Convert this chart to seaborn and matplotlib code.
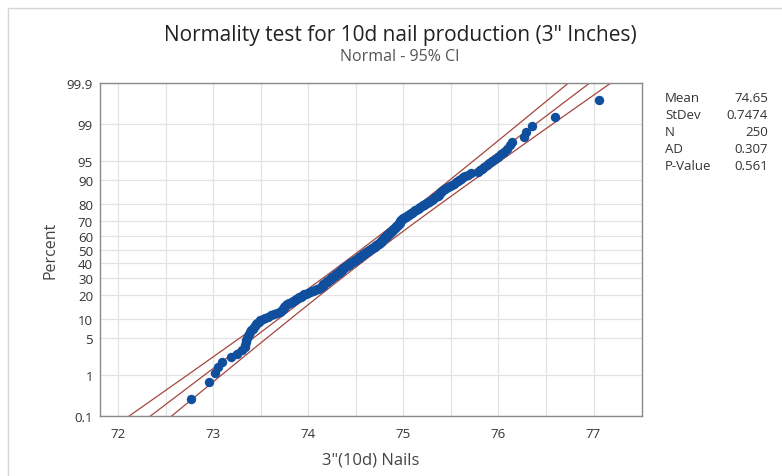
"""
plot.py - normal probability plot of 10d nail lengths (Minitab style)
"""

from statistics import NormalDist
import numpy as np
import pandas as pd
import matplotlib
matplotlib.use('Agg')
import matplotlib.pyplot as plt
from matplotlib.patches import Rectangle
import seaborn as sns

nails_low = [72.77, 72.96, 73.02, 73.05, 73.09, 73.19, 73.25, 73.30,
             73.33, 73.34, 73.35, 73.35, 73.36, 73.37, 73.38, 73.39,
             73.40, 73.42, 73.43, 73.44, 73.45, 73.46, 73.48, 73.49,
             73.52, 73.55, 73.58, 73.61, 73.64, 73.67, 73.70,
             73.71, 73.72, 73.73, 73.74, 73.75, 73.76, 73.77, 73.78, 73.80,
             73.81, 73.83, 73.84, 73.86, 73.87, 73.89, 73.90, 73.92, 73.93,
             73.95, 73.96, 73.98, 74.00,
             74.02, 74.04, 74.05, 74.07, 74.09, 74.10, 74.12]
nails_mid = [74.13, 74.14, 74.15, 74.15, 74.16, 74.17, 74.18, 74.19, 74.20,
             74.20, 74.21, 74.22, 74.23, 74.24, 74.24, 74.25, 74.26, 74.27,
             74.28, 74.28, 74.29, 74.30, 74.31, 74.32, 74.32, 74.33, 74.34,
             74.35, 74.36, 74.36, 74.37, 74.38, 74.39, 74.39, 74.40,
             74.41, 74.42, 74.43, 74.43, 74.44, 74.45, 74.46, 74.47, 74.48,
             74.48, 74.49, 74.50, 74.51, 74.52, 74.53, 74.53, 74.54, 74.55,
             74.56, 74.57, 74.58, 74.58, 74.59, 74.60, 74.61, 74.62, 74.63,
             74.63, 74.64, 74.65,
             74.66, 74.66, 74.67, 74.68, 74.69, 74.70, 74.70, 74.71, 74.72,
             74.73, 74.74, 74.74, 74.75,
             74.76, 74.76, 74.77, 74.78, 74.78, 74.79, 74.79, 74.80, 74.80,
             74.81, 74.82, 74.82, 74.83, 74.83, 74.84, 74.85, 74.85, 74.86,
             74.86, 74.87, 74.88, 74.88, 74.89, 74.89, 74.90, 74.91, 74.91,
             74.92, 74.92, 74.93, 74.94, 74.94, 74.95, 74.95, 74.96, 74.96,
             74.97, 74.97, 74.98, 74.98, 74.99]
nails_high = [75.00, 75.01, 75.02, 75.03, 75.04, 75.05, 75.06, 75.07, 75.08,
              75.09, 75.10, 75.11, 75.12, 75.13, 75.15, 75.16, 75.17, 75.18,
              75.20,
              75.21, 75.22, 75.23, 75.25, 75.26, 75.27, 75.28, 75.30, 75.31,
              75.32, 75.33, 75.35, 75.36, 75.37, 75.38, 75.39, 75.40, 75.41,
              75.42, 75.44, 75.45,
              75.47, 75.49, 75.51, 75.53, 75.55, 75.57, 75.59, 75.61, 75.63,
              75.65, 75.68, 75.71,
              75.79, 75.81, 75.83, 75.85, 75.88, 75.90, 75.93, 75.96, 76.00,
              76.03, 76.06, 76.09, 76.12, 76.14,
              76.27, 76.29, 76.35, 76.60, 77.06]

stat_names = ['Mean', 'StDev', 'N', 'AD', 'P-Value']
stat_values = ['74.65', '0.7474', '250', '0.307', '0.561']
fit_mean = 74.65
fit_sd = 0.7474

pct_ticks = [0.1, 1, 5, 10, 20, 30, 40, 50, 60, 70, 80, 90, 95, 99, 99.9]
pct_labels = ['0.1', '1', '5', '10', '20', '30', '40', '50', '60', '70', '80',
              '90', '95', '99', '99.9']
x_ticks = [72, 73, 74, 75, 76, 77]

DOT = '#0f4f9e'
RED = '#a5463e'
GRID = '#e3e3e3'
TXT = '#333333'

nd = NormalDist()
x = np.array(nails_low + nails_mid + nails_high)
n = len(x)
# Minitab median ranks -> normal scores
ranks = np.arange(1, n + 1)
z = np.array([nd.inv_cdf((i - 0.3) / (n + 0.4)) for i in ranks])
df = pd.DataFrame({'nails': x, 'z': z})

sns.set_theme(style='whitegrid')
plt.rcParams['font.family'] = ['Open Sans', 'DejaVu Sans']

fig = plt.figure(figsize=(7.82, 4.77), dpi=100)
ax = fig.add_axes([100 / 782, 60 / 477, 542 / 782, 333 / 477])

# fitted line and 95% CI for percentiles
zmax = nd.inv_cdf(0.999)
zz = np.linspace(-zmax - 0.3, zmax + 0.3, 200)
z975 = nd.inv_cdf(0.975)
half = z975 * fit_sd * np.sqrt(1 / n + zz ** 2 / (2 * (n - 1)))
for off in (-half, 0, half):
    ax.plot(fit_mean + zz * fit_sd + off, zz, color=RED, lw=0.9, zorder=2)

sns.scatterplot(data=df, x='nails', y='z', ax=ax, color=DOT, s=46,
                linewidth=0, zorder=3, legend=False)

ax.set_xlim(71.81, 77.51)
ax.set_ylim(-zmax, zmax)
ax.set_yticks([nd.inv_cdf(p / 100) for p in pct_ticks])
ax.set_yticklabels(pct_labels)
ax.set_xticks(x_ticks)
ax.set_xticks(np.arange(72.5, 77.5, 1.0), minor=True)
ax.grid(True, which='both', color=GRID, lw=0.9)
ax.tick_params(axis='both', which='major', length=3, width=0.8, color='#777777',
               labelsize=9.5, labelcolor=TXT, pad=2)
ax.tick_params(axis='x', which='minor', length=0)
ax.tick_params(axis='x', pad=5)
for sp in ax.spines.values():
    sp.set_color('#8a8a8a')
    sp.set_linewidth(1.0)

ax.set_xlabel('3"(10d) Nails', fontsize=12, color='#444444', labelpad=8)
ax.set_ylabel('Percent', fontsize=11.5, color='#444444', labelpad=6)

fig.text(400 / 782, 1 - 35 / 477, 'Normality test for 10d nail production (3" Inches)',
         ha='center', va='center', fontsize=15, color='#222222')
fig.text(400 / 782, 1 - 57 / 477, 'Normal - 95% CI', ha='center', va='center',
         fontsize=11.5, color='#555555')

for k, (name, val) in enumerate(zip(stat_names, stat_values)):
    yy = 1 - (99 + k * 16.8) / 477
    fig.text(665 / 782, yy, name, ha='left', va='center', fontsize=9.5, color=TXT)
    fig.text(768 / 782, yy, val, ha='right', va='center', fontsize=9.5, color=TXT)

# light frame around the picture
fig.patches.append(Rectangle((8 / 782, -0.05), 1.0, 1 - 9 / 477 + 0.05,
                             transform=fig.transFigure, fill=False,
                             edgecolor='#d6d6d6', lw=1.0))

fig.savefig('out.png', dpi=100)
plt.close(fig)
